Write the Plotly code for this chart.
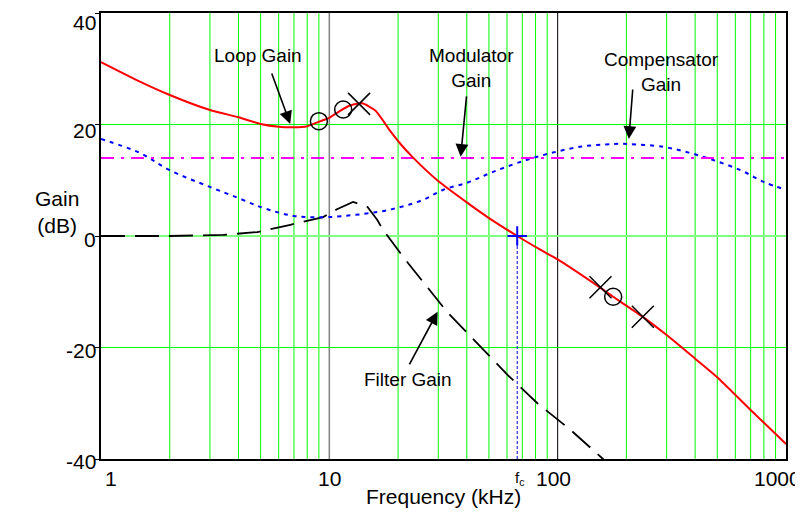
import math
import plotly.graph_objects as go

# Loop gain (red, solid)
loop_f = [1, 1.48, 2, 3, 4, 5, 6, 7, 8, 9, 10, 11.1, 12.3, 13.9, 15.9, 18.5, 20.5,
          23.1, 29.7, 40.4, 49.3, 66.5, 84.3, 100, 154, 175, 236, 303, 400, 505, 700, 1000]
loop_db = [31.2, 27.7, 25.3, 22.6, 21.3, 20.1, 19.6, 19.5, 19.7, 20.5, 21.2, 22.4, 23.4,
           23.8, 22.5, 18.8, 16.5, 14.2, 10.0, 5.9, 3.4, 0.0, -2.5, -4.2, -9.3, -10.9,
           -14.5, -17.9, -22.0, -25.5, -31.2, -37.3]

# Compensator gain (blue, dotted)
comp_f = [1, 1.48, 2, 3, 4, 5, 6, 7, 8, 10, 16.2, 20.5, 25.8, 31.6, 40.4, 50.7, 66.5,
          90, 125, 176, 202, 290, 380, 482, 633, 798, 1000]
comp_db = [17.4, 14.9, 11.8, 8.8, 6.8, 5.2, 4.2, 3.6, 3.4, 3.4, 4.3, 5.2, 6.5, 8.3, 9.6,
           11.3, 13.1, 14.7, 16.0, 16.5, 16.5, 16.0, 14.9, 13.6, 11.8, 9.7, 8.3]

# Modulator gain (magenta, dash-dot)
mod_f = [1, 1000]
mod_db = [14.0, 14.0]

# Filter gain (black, long dash)
filt_f = [1, 2, 3.43, 4.83, 6.75, 9.4, 10.8, 12.7, 14.7, 16.2, 17.2, 21.1, 32.9,
          60.3, 81.5, 114, 158, 200]
filt_db = [0, 0, 0.2, 0.7, 2.0, 3.4, 4.8, 6.1, 5.2, 2.9, 1.1, -3.8, -13.7, -24.9,
           -30.0, -34.8, -40.0, -44.0]

# Pole / zero markers on the loop gain
circle_f = [9, 11.5, 175]
circle_db = [20.6, 22.7, -10.9]
cross_f = [13.5, 154, 236]
cross_db = [23.7, -9.2, -14.5]

# Crossover frequency
fc = 66.5

grid_f = [m * 10 ** d for d in range(3) for m in range(2, 10)]
xtick_vals = [1, 10, 100, 1000]
xtick_labels = ["1", "10", "100", "1000"]
ytick_vals = [-40, -20, 0, 20, 40]
ytick_labels = ["-40", "-20", "0", "20", "40"]

FONT = "Liberation Sans, Arial, sans-serif"

fig = go.Figure()

fig.add_trace(go.Scatter(
    x=filt_f, y=filt_db, mode="lines", name="Filter Gain",
    line=dict(color="black", width=1.8, dash="24px,10px"),
))
fig.add_trace(go.Scatter(
    x=comp_f, y=comp_db, mode="lines", name="Compensator Gain",
    line=dict(color="#0000ff", width=2, dash="4px,5px", shape="spline"),
))
fig.add_trace(go.Scatter(
    x=mod_f, y=mod_db, mode="lines", name="Modulator Gain",
    line=dict(color="#ff00ff", width=2, dash="13px,7px,3px,7px"),
))
fig.add_trace(go.Scatter(
    x=loop_f, y=loop_db, mode="lines", name="Loop Gain",
    line=dict(color="#ff0000", width=2, shape="spline", smoothing=0.6),
))
fig.add_trace(go.Scatter(
    x=[fc, fc], y=[0, -40], mode="lines",
    line=dict(color="#0000cc", width=1, dash="3px,2px"),
))
fig.add_trace(go.Scatter(
    x=circle_f, y=circle_db, mode="markers",
    marker=dict(symbol="circle-open", size=17, color="black", line=dict(width=1.5)),
))
fig.add_trace(go.Scatter(
    x=cross_f, y=cross_db, mode="markers",
    marker=dict(symbol="x-thin-open", size=22, color="black", line=dict(width=1.5)),
))
fig.add_trace(go.Scatter(
    x=[fc], y=[0], mode="markers",
    marker=dict(symbol="cross-thin-open", size=14, color="#0000ff", line=dict(width=2)),
))

# vertical grid
for g in grid_f:
    fig.add_shape(type="line", xref="x", yref="paper", x0=g, x1=g, y0=0, y1=1,
                  line=dict(color="#00ff00", width=1), layer="below")
fig.add_shape(type="line", xref="x", yref="paper", x0=10, x1=10, y0=0, y1=1,
              line=dict(color="#808080", width=1.5), layer="below")
fig.add_shape(type="line", xref="x", yref="paper", x0=100, x1=100, y0=0, y1=1,
              line=dict(color="black", width=1), layer="below")

# tick labels as annotations (annotation x on a log axis is log10)
for val, txt, shift in zip(xtick_vals, xtick_labels, [10, 0, -4, -9]):
    fig.add_annotation(x=math.log10(val), y=0, xref="x", yref="paper", text=txt,
                       showarrow=False, yanchor="top", yshift=-6, xshift=shift,
                       font=dict(size=21, color="black", family=FONT))
for val, txt, shift in zip(ytick_vals, ytick_labels, [-2, -3, -3, -6, -9]):
    fig.add_annotation(x=0, y=val, xref="paper", yref="y", text=txt,
                       showarrow=False, xanchor="right", xshift=-3, yshift=shift,
                       font=dict(size=21, color="black", family=FONT))

fig.add_annotation(x=math.log10(fc), y=0, xref="x", yref="paper",
                   text="f<sub>c</sub>", showarrow=False, yanchor="top", yshift=-8,
                   xshift=2, font=dict(size=15, color="black", family=FONT))

fig.add_annotation(x=0.5, y=-0.114, xref="paper", yref="paper", text="Frequency (kHz)",
                   showarrow=False, font=dict(size=21, color="black", family=FONT))

# callout arrows
arrows = [
    (6.74, 20.1, -19, -52),
    (37.6, 14.2, 6, -62),
    (205, 17.4, 4, -51),
    (29.8, -13.6, -29, 54),
]
for f, db, ax, ay in arrows:
    fig.add_annotation(x=math.log10(f), y=db, text="", showarrow=True, ax=ax, ay=ay,
                       arrowhead=2, arrowsize=1.6, arrowwidth=1.6, arrowcolor="black")

labels = [
    (4.88, 32.3, "Loop Gain"),
    (41.96, 30.1, "Modulator<br>Gain"),
    (285.8, 29.4, "Compensator<br>Gain"),
    (22.0, -25.8, "Filter Gain"),
]
for f, db, txt in labels:
    fig.add_annotation(x=math.log10(f), y=db, text=txt, showarrow=False,
                       font=dict(size=19, color="black", family=FONT))

fig.add_annotation(x=-0.099, y=0.554, xref="paper", yref="paper", text="Gain<br>(dB)",
                   showarrow=False, font=dict(size=21, color="black", family=FONT))

fig.update_xaxes(
    type="log", range=[0, 3], automargin=False,
    showticklabels=False, showgrid=False,
    showline=True, linecolor="black", linewidth=2, mirror=True,
    ticks="", zeroline=False,
)
fig.update_yaxes(
    range=[-40, 40], automargin=False,
    tickvals=ytick_vals, showticklabels=False,
    showgrid=True, gridcolor="#00ff00", gridwidth=1,
    zeroline=True, zerolinecolor="#80ff80", zerolinewidth=2,
    showline=True, linecolor="black", linewidth=2, mirror=True,
    ticks="outside", ticklen=4, tickcolor="black",
)

# the page puts the plot 8px in from the top-left corner; margins allow for that
fig.update_layout(
    width=803, height=520,
    margin=dict(l=93, r=25, t=5, b=69),
    plot_bgcolor="white", paper_bgcolor="white",
    showlegend=False,
    font=dict(family=FONT, color="black"),
)

fig.write_html("out.html")
